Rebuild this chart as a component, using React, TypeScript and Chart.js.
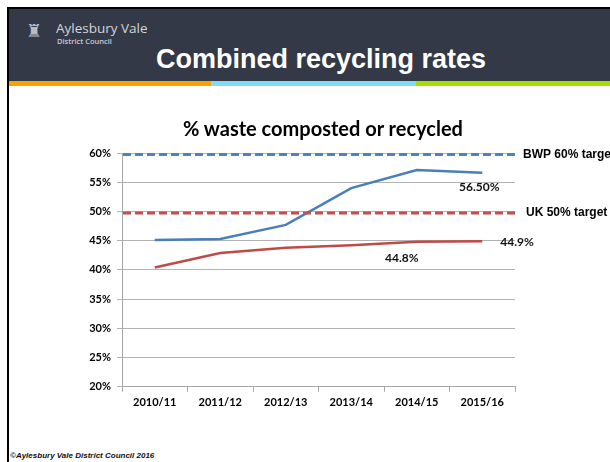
import React, { useEffect, useRef } from "react";
import { Chart, registerables } from "chart.js";
Chart.register(...registerables);

const categories = ["2010/11", "2011/12", "2012/13", "2013/14", "2014/15", "2015/16"];
const seriesA = [45.1, 45.3, 47.7, 54.0, 57.1, 56.6];
const seriesB = [40.4, 42.9, 43.8, 44.2, 44.8, 44.9];
const seriesALabels = [null, null, null, null, null, "56.50%"];
const seriesBLabels = [null, null, null, null, "44.8%", "44.9%"];
const yMin = 20;
const yMax = 60;
const yStep = 5;
const targetValues = [60, 50];
const targetLabels = ["BWP 60% target", "UK 50% target"];

const BLUE = "#4a7ebb";
const RED = "#be4b48";
const TARGET_COLORS = ["#4f81bd", "#c0504d"];
const LABEL_FONT = "Lato, 'Open Sans', sans-serif";

const labelOffsetsA = [null, null, null, null, null, [-3, 14, "center"]];
const labelOffsetsB = [null, null, null, null, [-15, 16, "center"], [18, 1, "left"]];

const pointLabelPlugin = {
  id: "pointLabels",
  afterDatasetsDraw(chart: any) {
    const ctx = chart.ctx;
    ctx.save();
    ctx.font = "bold 12px " + LABEL_FONT;
    ctx.fillStyle = "#111";
    ctx.textBaseline = "middle";
    const sets = [
      [seriesALabels, labelOffsetsA],
      [seriesBLabels, labelOffsetsB],
    ];
    sets.forEach(([labels, offs]: any, di: number) => {
      const meta = chart.getDatasetMeta(di);
      labels.forEach((t: any, i: number) => {
        if (!t) return;
        const p = meta.data[i];
        const o = offs[i];
        ctx.textAlign = o[2];
        ctx.fillText(t, p.x + o[0], p.y + o[1]);
      });
    });
    ctx.restore();
  },
};

const targetPlugin = {
  id: "targets",
  afterDatasetsDraw(chart: any) {
    const ctx = chart.ctx;
    const ys = chart.scales.y;
    const area = chart.chartArea;
    ctx.save();
    targetValues.forEach((v, i) => {
      const y = ys.getPixelForValue(v) + 1.5;
      ctx.strokeStyle = TARGET_COLORS[i];
      ctx.lineWidth = 3;
      ctx.setLineDash([8, 4]);
      ctx.beginPath();
      ctx.moveTo(area.left + 1, y);
      ctx.lineTo(area.right, y);
      ctx.stroke();
      ctx.setLineDash([]);
      ctx.font = "bold 12px Arial, 'Liberation Sans', sans-serif";
      ctx.fillStyle = "#000";
      ctx.textAlign = "left";
      ctx.textBaseline = "middle";
      ctx.fillText(targetLabels[i], area.right + (i === 0 ? 8 : 11), y);
    });
    ctx.restore();
  },
};

function RecyclingChart() {
  const ref = useRef<HTMLCanvasElement>(null);
  useEffect(() => {
    const chart = new Chart(ref.current as HTMLCanvasElement, {
      type: "line",
      data: {
        labels: categories,
        datasets: [
          {
            label: "AVDC",
            data: seriesA,
            borderColor: BLUE,
            borderWidth: 2.5,
            pointRadius: 0,
            tension: 0,
          },
          {
            label: "Combined",
            data: seriesB,
            borderColor: RED,
            borderWidth: 2.5,
            pointRadius: 0,
            tension: 0,
          },
        ],
      },
      options: {
        animation: false,
        responsive: false,
        layout: { padding: { right: 95, left: 0, top: 48, bottom: 0 } },
        plugins: {
          legend: { display: false },
          tooltip: { enabled: false },
          title: { display: false },
        },
        scales: {
          x: {
            offset: true,
            grid: {
              offset: true,
              drawOnChartArea: false,
              drawTicks: true,
              tickLength: 5,
              color: "#a6a6a6",
            },
            border: { color: "#a6a6a6", width: 1 },
            ticks: {
              color: "#000",
              padding: 4,
              font: { family: LABEL_FONT, size: 11, weight: "bold" },
            },
          },
          y: {
            min: yMin,
            max: yMax,
            afterFit(scale: any) {
              scale.width = 62;
            },
            grid: { color: "#b3b3b3", tickLength: 5, lineWidth: 1 },
            border: { color: "#a6a6a6", width: 1 },
            ticks: {
              stepSize: yStep,
              color: "#000",
              padding: 6,
              font: { family: LABEL_FONT, size: 11, weight: "bold" },
              callback: (v: any) => v + "%",
            },
          },
        },
      },
      plugins: [targetPlugin, pointLabelPlugin],
    });
    return () => chart.destroy();
  }, []);
  return <canvas ref={ref} width={550} height={308} style={{ position: "absolute", left: 60, top: 105 }} />;
}

export default function App() {
  return (
    <div
      style={{
        position: "absolute",
        left: 0,
        top: 0,
        width: 610,
        height: 462,
        background: "#fff",
        overflow: "hidden",
        fontFamily: "Arial, 'Liberation Sans', sans-serif",
      }}
    >
      <div
        style={{
          position: "absolute",
          left: 7,
          top: 7,
          width: 603,
          height: 455,
          borderLeft: "2px solid #000",
          borderTop: "2px solid #000",
        }}
      />
      <div style={{ position: "absolute", left: 9, top: 9, width: 601, height: 72, background: "#333946" }} />
      <div
        style={{
          position: "absolute",
          left: 26,
          top: 20,
          fontSize: 18,
          color: "#b9bcc3",
          lineHeight: "22px",
          fontFamily: "'DejaVu Sans', sans-serif",
        }}
      >
        ♜
      </div>
      <div style={{ position: "absolute", left: 56, top: 20, color: "#d3d5da", fontSize: 13.5, lineHeight: "16px", fontFamily: "'Open Sans', sans-serif" }}>
        Aylesbury Vale
      </div>
      <div style={{ position: "absolute", left: 57, top: 36, color: "#c9ccd2", fontSize: 7.5, fontWeight: 600, lineHeight: "10px", fontFamily: "'Open Sans', sans-serif" }}>
        District Council
      </div>
      <div
        style={{
          position: "absolute",
          left: 0,
          top: 42,
          width: 642,
          textAlign: "center",
          color: "#fff",
          fontWeight: "bold",
          fontSize: 27,
          lineHeight: "34px",
        }}
      >
        Combined recycling rates
      </div>
      <div style={{ position: "absolute", left: 9, top: 81, width: 202, height: 5, background: "#f7a400" }} />
      <div style={{ position: "absolute", left: 211, top: 81, width: 205, height: 5, background: "#7fdcf6" }} />
      <div style={{ position: "absolute", left: 416, top: 81, width: 194, height: 5, background: "#a5df00" }} />
      <RecyclingChart />
      <div
        style={{
          position: "absolute",
          left: 0,
          top: 116,
          width: 646,
          textAlign: "center",
          color: "#000",
          fontWeight: "bold",
          fontSize: 20,
          lineHeight: "24px",
          fontFamily: LABEL_FONT,
        }}
      >
        % waste composted or recycled
      </div>
      <div
        style={{
          position: "absolute",
          left: 10,
          top: 451,
          fontSize: 8,
          fontStyle: "italic",
          fontWeight: "bold",
          color: "#111",
          lineHeight: "10px",
        }}
      >
        ©Aylesbury Vale District Council 2016
      </div>
    </div>
  );
}
